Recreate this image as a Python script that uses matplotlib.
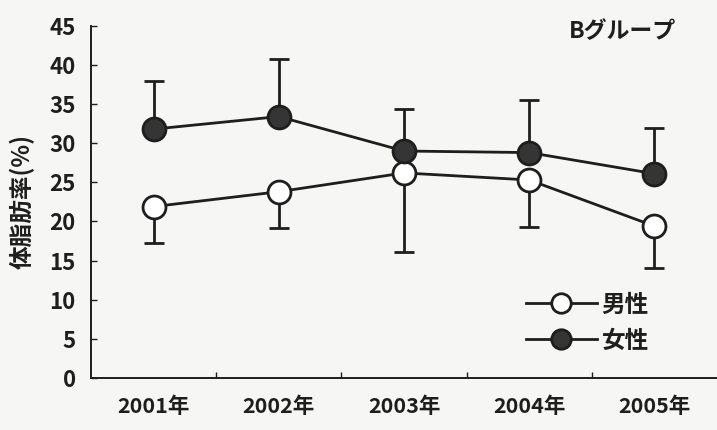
import numpy as np
import matplotlib
matplotlib.use('Agg')
import matplotlib.pyplot as plt

plt.rcParams['font.family'] = ['Noto Sans CJK JP', 'DejaVu Sans']
plt.rcParams['font.weight'] = 'bold'

# DATA
###############################################################################
years = ['2001年', '2002年', '2003年', '2004年', '2005年']
male = [21.9, 23.8, 26.2, 25.3, 19.4]
male_sd = [4.6, 4.6, 10.1, 6.0, 5.3]      # drawn downward only
female = [31.8, 33.4, 29.0, 28.8, 26.1]
female_sd = [6.2, 7.4, 5.4, 6.7, 5.9]     # drawn upward only
yticks = [0, 5, 10, 15, 20, 25, 30, 35, 40, 45]
###############################################################################

ink = '#1e1e1e'
bg = '#f6f6f4'

fig = plt.figure(figsize=(7.17, 4.30), dpi=100, facecolor=bg)
ax = fig.add_axes([0.127, 0.121, 0.873, 0.819], facecolor=bg)

x = np.arange(len(years))

# error bars (one sided)
ax.errorbar(x, male, yerr=[male_sd, [0]*len(male)], fmt='none', ecolor=ink,
            elinewidth=2, capsize=7, capthick=2, zorder=2)
ax.errorbar(x, female, yerr=[[0]*len(female), female_sd], fmt='none', ecolor=ink,
            elinewidth=2, capsize=7, capthick=2, zorder=2)

# lines
ax.plot(x, male, color=ink, lw=2, marker='o', ms=16.5, mfc='white', mec=ink,
        mew=2, label='男性', zorder=3)
ax.plot(x, female, color=ink, lw=2, marker='o', ms=16.5, mfc='#353535', mec=ink,
        mew=2, label='女性', zorder=3)

ax.set_xlim(-0.5, 4.5)
ax.set_ylim(0, 45)
ax.set_yticks(yticks)
ax.set_xticks(x)
ax.set_xticklabels(years)
ax.set_xticks(np.arange(0.5, 4.5, 1), minor=True)

for s in ['top', 'right']:
    ax.spines[s].set_visible(False)
for s in ['left', 'bottom']:
    ax.spines[s].set_color(ink)
    ax.spines[s].set_linewidth(1.4)

ax.tick_params(axis='y', direction='in', length=4, width=1, color=ink,
               labelsize=16, labelcolor=ink, pad=11)
ax.tick_params(axis='x', which='major', length=0, labelsize=15.5,
               labelcolor=ink, pad=13)
ax.tick_params(axis='x', which='minor', direction='in', length=4, width=1,
               color=ink)

ax.set_ylabel('体脂肪率(%)', fontsize=17, fontweight='bold', color=ink)
ax.yaxis.set_label_coords(-0.09, 0.5)

ax.text(0.935, 0.985, 'Bグループ', transform=ax.transAxes, ha='right',
        va='center', fontsize=16.5, fontweight='bold', color=ink)

leg = ax.legend(loc='lower right', bbox_to_anchor=(0.925, 0.012), frameon=False,
                fontsize=17, handlelength=3.0, markerscale=0.85,
                labelspacing=0.5, handletextpad=0.2)
for t in leg.get_texts():
    t.set_color(ink)

fig.savefig('out.png', dpi=100, facecolor=bg)
